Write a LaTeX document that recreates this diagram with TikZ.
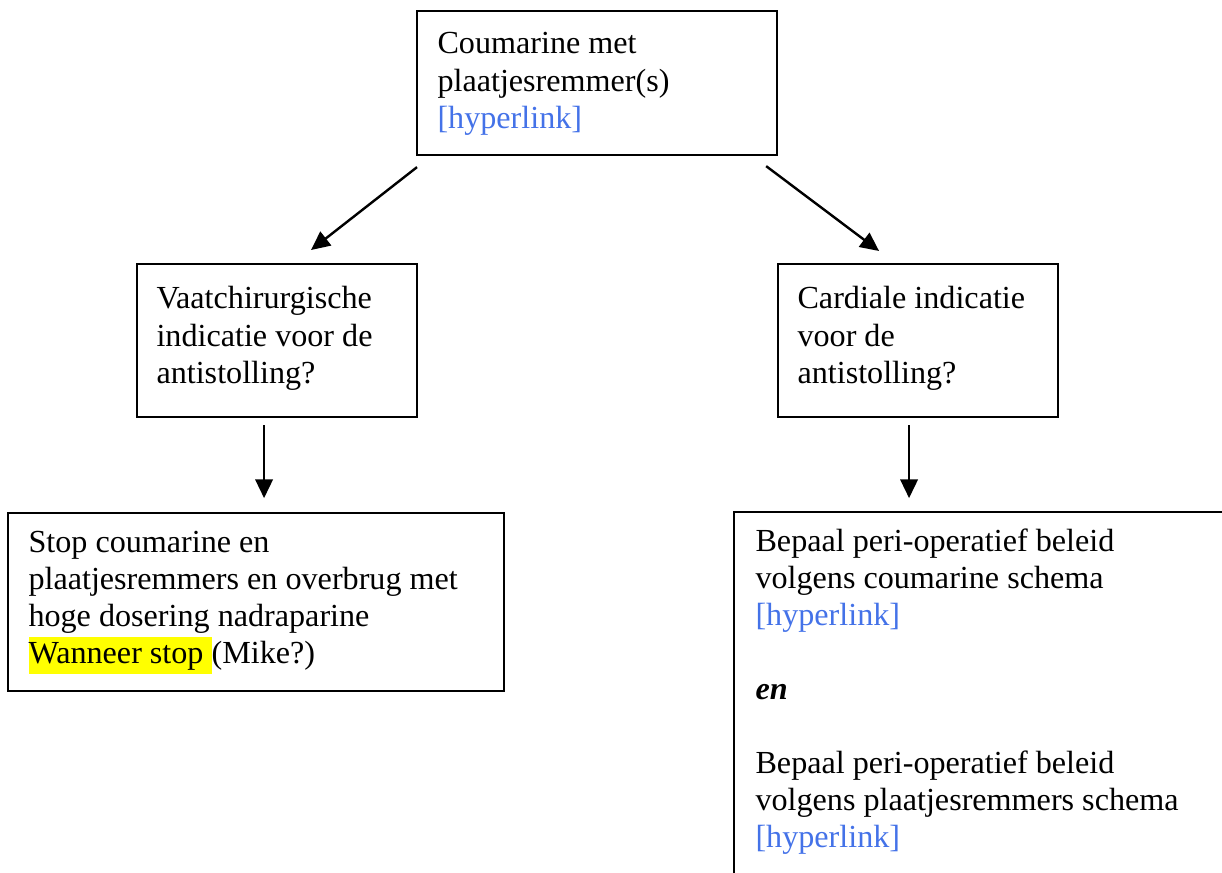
\documentclass[tikz,border=0pt]{standalone}
\usepackage{fontspec}
\setmainfont{Liberation Serif}
\usetikzlibrary{arrows.meta, positioning, calc}
\definecolor{linkblue}{HTML}{4472E8}
\definecolor{markyellow}{HTML}{FFFF00}
\newcommand{\px}{0.01312cm}
\newcommand{\linktext}{\textcolor{linkblue}{[hyperlink]}}
\newcommand{\hilite}[1]{{\setlength{\fboxsep}{0pt}\colorbox{markyellow}{\strut #1}}}

\begin{document}
\begin{tikzpicture}[x=\px, y=-\px, font=\fontsize{12}{13.85}\selectfont,
  box/.style={draw, line width=0.8pt, anchor=north west, inner sep=0pt},
  txt/.style={anchor=base west, inner sep=0pt, text width=470*\px,
              execute at begin node={\raggedright\spaceskip=0pt\xspaceskip=0pt\relax}},
  arr/.style={line width=0.9pt, -{Triangle[length=7pt, width=6.5pt]}}]
  \useasboundingbox (0,0) rectangle (1222,873);
  \begin{scope}
  \clip (0,0) rectangle (1222,873);
  % boxes
  \node[box, minimum width=360*\px, minimum height=144*\px] (coum) at (416,10) {};
  \node[box, minimum width=280*\px, minimum height=153*\px] (vaat) at (136,263) {};
  \node[box, minimum width=280*\px, minimum height=153*\px] (card) at (777,263) {};
  \node[box, minimum width=496*\px, minimum height=178*\px] (stop) at (7,512) {};
  \node[box, minimum width=567*\px, minimum height=439*\px] (bepaal) at (733,511) {};
  % texts
  \node[txt] (coumtxt) at ($(coum.north west)+(21,44)$)
    {Coumarine met\\ plaatjesremmer(s)\\ \linktext};
  \node[txt] (vaattxt) at ($(vaat.north west)+(20,46)$)
    {Vaatchirurgische\\ indicatie voor de\\ antistolling?};
  \node[txt] (cardtxt) at ($(card.north west)+(20,46)$)
    {Cardiale indicatie\\ voor de\\ antistolling?};
  \node[txt] (stoptxt) at ($(stop.north west)+(21,40)$)
    {Stop coumarine en\\ plaatjesremmers en overbrug met\\
     hoge dosering nadraparine\\ \hilite{Wanneer stop\ }(Mike?)};
  \node[txt] (bepaaltxt) at ($(bepaal.north west)+(22,40)$)
    {Bepaal peri-operatief beleid\\ volgens coumarine schema\\ \linktext\\[13.85pt]
     {\bfseries\itshape en}\\[13.85pt]
     Bepaal peri-operatief beleid\\ volgens plaatjesremmers schema\\ \linktext};
  % arrows
  \coordinate (c1) at ($(coum.south west)+(1,11)$);
  \coordinate (v1) at ($(vaat.north)+(34,-13)$);
  \coordinate (c2) at ($(coum.south east)+(-12,10)$);
  \coordinate (k1) at ($(card.north)+(-39,-12)$);
  \coordinate (v2) at ($(vaat.south)+(-13,7)$);
  \coordinate (s1) at ($(vaat.south)+(-13,80)$);
  \coordinate (k2) at ($(card.south)+(-9,7)$);
  \coordinate (b1) at ($(card.south)+(-9,80)$);
  \draw[arr] (c1) -- (v1);
  \draw[arr] (c2) -- (k1);
  \draw[arr] (v2) -- (s1);
  \draw[arr] (k2) -- (b1);
  \end{scope}
\end{tikzpicture}
\end{document}
